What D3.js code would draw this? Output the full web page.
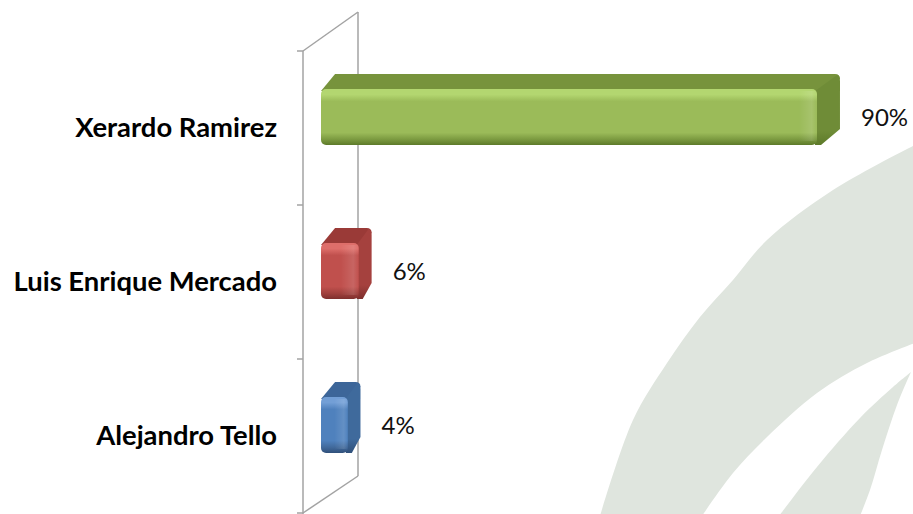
<!DOCTYPE html>
<html>
<head>
<meta charset="utf-8">
<script src="https://cdn.jsdelivr.net/npm/d3@7"></script>
<style>
html,body{margin:0;padding:0;background:#fff;}
svg{display:block;}
</style>
</head>
<body>
<svg id="chart" width="913" height="514"></svg>
<script>
// ---- data ----
const categories = ["Xerardo Ramirez", "Luis Enrique Mercado", "Alejandro Tello"];
const values = [90, 6, 4];
const valueLabels = ["90%", "6%", "4%"];

// ---- styles ----
const palettes = [
  {hi:"#b3d670", main:"#9bbb59", lo:"#7b9a40", dark:"#5d7a2a", top:"#77933c", side:"#6f8c37"},
  {hi:"#de6e6a", main:"#c0504d", lo:"#a0403d", dark:"#7e2f2d", top:"#9a3a37", side:"#a5413e"},
  {hi:"#739fd6", main:"#4f81bd", lo:"#41699b", dark:"#30507a", top:"#3d6699", side:"#3f6a9c"}
];

const W = 913, H = 514;
const svg = d3.select("#chart");
const defs = svg.append("defs");

// ---- background watermark ----
const bg = svg.append("g");
const smooth = d3.line().curve(d3.curveCatmullRom.alpha(0.5));
const outer = [[600,516],[633,420],[667,363],[700,317],[733,280],[767,240],[833,190],[915,145]];
const inner = [[915,343],[867,363],[817,393],[767,437],[733,473],[702,516]];
bg.append("path")
  .attr("d", smooth(outer) + "L915,343" + smooth(inner).replace(/^M/,"L") + "Z")
  .attr("fill", "#dfe5de");
const spikeL = [[779,516],[817,467],[860,418],[893,387],[911,372]];
const spikeR = [[911,372],[897,405],[882,450],[870,490],[860,516]];
bg.append("path")
  .attr("d", smooth(spikeL) + smooth(spikeR).replace(/^M/,"L") + "Z")
  .attr("fill", "#dfe5de");

// ---- scales ----
const x = d3.scaleLinear().domain([0, 90]).range([326, 817]);
const y = d3.scaleBand().domain(categories).range([51, 513]);

// wall geometry
const frontX = x(0) - 23;
const wallDx = 55, wallDy = -39;
const axisColor = "#a3a3a3";
const axis = svg.append("g").attr("stroke", axisColor).attr("stroke-width", 1.5).attr("fill","none");
const yTop = y.range()[0], yBot = y.range()[1];
axis.append("line").attr("x1", frontX).attr("x2", frontX).attr("y1", yTop).attr("y2", H);
axis.append("line").attr("x1", frontX + wallDx).attr("x2", frontX + wallDx).attr("y1", yTop + wallDy).attr("y2", yBot + wallDy + 2);
axis.append("line").attr("x1", frontX).attr("x2", frontX + wallDx).attr("y1", yTop).attr("y2", yTop + wallDy);
axis.append("line").attr("x1", frontX).attr("x2", frontX + wallDx).attr("y1", yBot).attr("y2", yBot + wallDy + 2);
const tickYs = categories.map(c => y(c)).concat([yBot]);
axis.selectAll("line.tick").data(tickYs).join("line")
  .attr("class","tick")
  .attr("x1", frontX - 6).attr("x2", frontX)
  .attr("y1", d => d).attr("y2", d => d);

// category labels
svg.append("g").selectAll("text").data(categories).join("text")
  .attr("x", 277)
  .attr("y", d => y(d) + y.bandwidth() / 2 + 2)
  .attr("text-anchor", "end")
  .attr("dominant-baseline", "middle")
  .attr("font-family", "Lato, 'Open Sans', sans-serif")
  .attr("font-weight", "bold")
  .attr("font-size", 27.4)
  .attr("fill", "#000")
  .text(d => d);

// ---- bars ----
const faceH = 56, depthDy = -15, shiftY = -11;
const depthDx = px => 5 + 0.022 * px;

palettes.forEach((p, i) => {
  const g = defs.append("linearGradient").attr("id", "front" + i)
    .attr("x1", 0).attr("y1", 0).attr("x2", 0).attr("y2", 1);
  [[0, p.hi],[0.1, p.hi],[0.22, p.main],[0.78, p.main],[0.9, p.lo],[1, p.dark]]
    .forEach(s => g.append("stop").attr("offset", s[0]).attr("stop-color", s[1]));
  const s = defs.append("linearGradient").attr("id", "side" + i)
    .attr("x1", 0).attr("y1", 0).attr("x2", 0).attr("y2", 1);
  [[0, p.side],[0.8, p.side],[1, p.dark]]
    .forEach(st => s.append("stop").attr("offset", st[0]).attr("stop-color", st[1]));
});
const hl = defs.append("linearGradient").attr("id", "endhl")
  .attr("x1", 0).attr("y1", 0).attr("x2", 1).attr("y2", 0);
[[0,0],[0.7,0.12],[1,0]].forEach(s => hl.append("stop").attr("offset", s[0])
  .attr("stop-color", "#fff").attr("stop-opacity", s[1]));

const bars = svg.append("g");
categories.forEach((c, i) => {
  const p = palettes[i];
  const cy = y(c) + y.bandwidth() / 2 + shiftY;
  const x0 = x(0) - 5, x1 = x(values[i]);
  const yT = cy - faceH / 2, yB = cy + faceH / 2;
  const dL = depthDx(x0), dR = depthDx(x1), dy = depthDy;
  const gb = bars.append("g");
  // top face
  gb.append("path")
    .attr("d", `M${x0},${yT + 2} L${x0 + dL + 2},${yT + dy} L${x1 + dR - 5},${yT + dy} Q${x1 + dR},${yT + dy} ${x1 + dR},${yT + dy + 5} L${x1},${yT + 4} Z`)
    .attr("fill", p.top);
  // side face
  gb.append("path")
    .attr("d", `M${x1 - 2},${yT + 2} L${x1 + dR - 3},${yT + dy + 1} Q${x1 + dR},${yT + dy + 2} ${x1 + dR},${yT + dy + 7} L${x1 + dR},${yB + dy - 1} L${x1 + 4},${yB} L${x1 - 2},${yB} Z`)
    .attr("fill", `url(#side${i})`);
  // front face
  gb.append("rect")
    .attr("x", x0).attr("y", yT)
    .attr("width", x1 - x0).attr("height", faceH)
    .attr("rx", 5).attr("ry", 5)
    .attr("fill", `url(#front${i})`);
  // end highlight
  const hw = Math.min(18, (x1 - x0) * 0.5);
  gb.append("rect")
    .attr("x", x1 - hw).attr("y", yT + 2)
    .attr("width", hw).attr("height", faceH - 6)
    .attr("fill", "url(#endhl)");
  // value label
  svg.append("text")
    .attr("x", x1 + dR + 21)
    .attr("y", cy + 3)
    .attr("dominant-baseline", "middle")
    .attr("font-family", "Lato, 'Open Sans', sans-serif")
    .attr("font-size", 24)
    .attr("fill", "#111")
    .text(valueLabels[i]);
});
</script>
</body>
</html>
